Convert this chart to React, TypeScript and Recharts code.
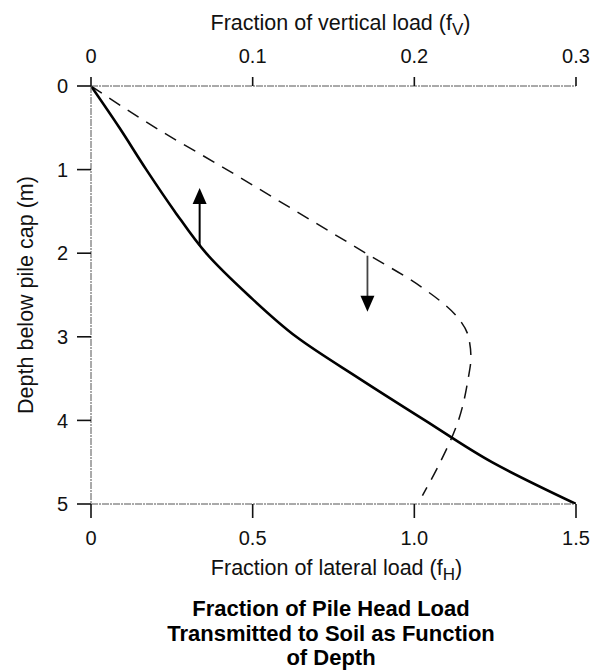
import React from 'react';
import { LineChart, Line, XAxis, YAxis, ReferenceLine, ReferenceDot, Label } from 'recharts';

const FONT = '"Liberation Sans", Arial, Helvetica, sans-serif';

// Axis ticks
const depthTicks = [0, 1, 2, 3, 4, 5];
const lateralTicks = [0, 0.5, 1, 1.5];
const verticalTicks = [0, 0.1, 0.2, 0.3];

// Solid curve: fraction of lateral load (bottom axis)
const lateralDepths = [0, 0.5, 1, 1.5, 2, 2.5, 3, 3.5, 4, 4.5, 5];
const lateralFractions = [0, 0.088, 0.171, 0.259, 0.356, 0.486, 0.635, 0.83, 1.033, 1.24, 1.5];

// Dashed curve: fraction of vertical load (top axis)
const verticalDepths = [0, 0.5, 1, 1.5, 2, 2.4, 2.75, 3, 3.25, 3.5, 4, 4.5, 4.9];
const verticalFractions = [0, 0.04, 0.084, 0.127, 0.17, 0.204, 0.226, 0.2335, 0.235, 0.2333, 0.2273, 0.216, 0.205];

// Arrows (x in the axis units of their curve, depth from -> to)
const upArrow = { x: 0.336, from: 1.91, to: 1.22 };
const downArrow = { x: 0.171, from: 2.03, to: 2.7 };

const lateralData = lateralDepths.map((depth, i) => ({ depth, fh: lateralFractions[i] }));
const verticalData = verticalDepths.map((depth, i) => ({ depth, fv: verticalFractions[i] }));

const HEAD_LEN = 16;
const HEAD_HALF = 7;
const headDepth = 0.15;

const HeadUp = (p: any) => {
  const { cx, cy } = p;
  return <path d={`M${cx},${cy} L${cx - HEAD_HALF},${cy + HEAD_LEN} L${cx + HEAD_HALF},${cy + HEAD_LEN} Z`} fill="#000" />;
};
const HeadDown = (p: any) => {
  const { cx, cy } = p;
  return <path d={`M${cx},${cy} L${cx - HEAD_HALF},${cy - HEAD_LEN} L${cx + HEAD_HALF},${cy - HEAD_LEN} Z`} fill="#000" />;
};

const TopTitle = (props: any) => {
  const vb = props.viewBox || {};
  const cx = vb.x + vb.width / 2 + 7;
  return (
    <text x={cx} y={30} textAnchor="middle" fontSize={21.5} fontFamily={FONT} fill="#111">
      Fraction of vertical load (f
      <tspan fontSize={17} dy={5}>V</tspan>
      <tspan dy={-5}>)</tspan>
    </text>
  );
};

const BottomTitle = (props: any) => {
  const vb = props.viewBox || {};
  const cx = vb.x + vb.width / 2 + 3;
  return (
    <text x={cx} y={575} textAnchor="middle" fontSize={21.5} fontFamily={FONT} fill="#111">
      Fraction of lateral load (f
      <tspan fontSize={17} dy={5}>H</tspan>
      <tspan dy={-5}>)</tspan>
    </text>
  );
};

const LeftTitle = () => (
  <text
    x={25}
    y={295}
    dy="0.35em"
    transform="rotate(-90, 25, 295)"
    textAnchor="middle"
    fontSize={21.5}
    fontFamily={FONT}
    fill="#111"
  >
    Depth below pile cap (m)
  </text>
);

const axisLineStyle = { stroke: '#555', strokeWidth: 1, strokeDasharray: '7 1 2 1' };
const tickLineStyle = { stroke: '#111', strokeWidth: 1.6 };
const tickStyle = { fill: '#111', fontSize: 20, fontFamily: FONT };

const fmtLateral = (v: number) => (v === 0 ? '0' : v.toFixed(1));
const fmtVertical = (v: number) => (v === 0 ? '0' : v.toFixed(1));

export default function App() {
  return (
    <div style={{ position: 'absolute', left: 0, top: 0, width: 604, height: 670, background: '#fff' }}>
      <LineChart
        width={604}
        height={590}
        layout="vertical"
        margin={{ top: 0, right: 28, bottom: 0, left: 0 }}
      >
        <XAxis
          xAxisId="v"
          orientation="top"
          type="number"
          domain={[0, 0.3]}
          ticks={verticalTicks}
          tickFormatter={fmtVertical}
          height={86}
          tickSize={9}
          tickMargin={14}
          axisLine={axisLineStyle}
          tickLine={tickLineStyle}
          tick={tickStyle}
          interval={0}
          allowDataOverflow
        >
          <Label content={<TopTitle />} />
        </XAxis>
        <XAxis
          xAxisId="h"
          orientation="bottom"
          type="number"
          domain={[0, 1.5]}
          ticks={lateralTicks}
          tickFormatter={fmtLateral}
          height={86}
          tickSize={14}
          tickMargin={13}
          axisLine={axisLineStyle}
          tickLine={tickLineStyle}
          tick={tickStyle}
          interval={0}
          allowDataOverflow
        >
          <Label content={<BottomTitle />} />
        </XAxis>
        <YAxis
          type="number"
          dataKey="depth"
          domain={[0, 5]}
          ticks={depthTicks}
          width={91}
          tickSize={14}
          tickMargin={9}
          axisLine={axisLineStyle}
          tickLine={tickLineStyle}
          tick={tickStyle}
          interval={0}
          allowDataOverflow
        >
          <Label content={<LeftTitle />} />
        </YAxis>
        <Line
          xAxisId="v"
          data={verticalData}
          dataKey="fv"
          type="monotone"
          stroke="#111"
          strokeWidth={1.5}
          strokeDasharray="13 9"
          dot={false}
          activeDot={false}
          isAnimationActive={false}
        />
        <Line
          xAxisId="h"
          data={lateralData}
          dataKey="fh"
          type="monotone"
          stroke="#000"
          strokeWidth={2.6}
          dot={false}
          activeDot={false}
          isAnimationActive={false}
        />
        <ReferenceLine
          xAxisId="h"
          segment={[{ x: upArrow.x, y: upArrow.from }, { x: upArrow.x, y: upArrow.to + headDepth }]}
          stroke="#000"
          strokeWidth={2}
        />
        <ReferenceDot xAxisId="h" x={upArrow.x} y={upArrow.to} r={0} shape={HeadUp} />
        <ReferenceLine
          xAxisId="v"
          segment={[{ x: downArrow.x, y: downArrow.from }, { x: downArrow.x, y: downArrow.to - headDepth }]}
          stroke="#444"
          strokeWidth={1.8}
        />
        <ReferenceDot xAxisId="v" x={downArrow.x} y={downArrow.to} r={0} shape={HeadDown} />
      </LineChart>
      <div
        style={{
          position: 'absolute',
          left: 60,
          top: 597,
          width: 542,
          textAlign: 'center',
          fontFamily: FONT,
          fontWeight: 'bold',
          fontSize: 22,
          lineHeight: '24.5px',
          color: '#000',
        }}
      >
        Fraction of Pile Head Load
        <br />
        Transmitted to Soil as Function
        <br />
        of Depth
      </div>
    </div>
  );
}
